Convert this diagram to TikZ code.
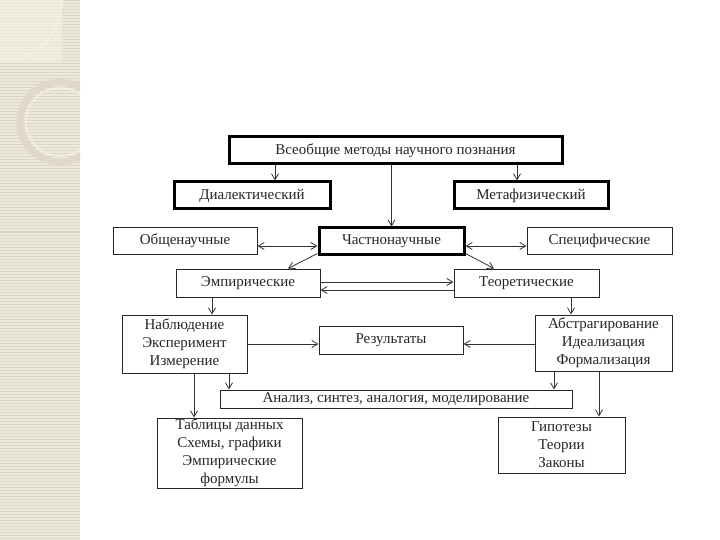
\documentclass[tikz,border=0pt]{standalone}
\usepackage{fontspec}
\setmainfont{Liberation Serif}
\usetikzlibrary{arrows.meta}
\definecolor{stripc}{HTML}{ECE9DA}
\definecolor{stripl}{HTML}{DCD7C2}
\definecolor{ringc}{HTML}{E0D8CB}
\definecolor{ringl}{HTML}{F3F0E6}
\begin{document}
\begin{tikzpicture}[x=1pt,y=-1pt,
  box/.style={draw=black!85, line width=1pt, inner sep=0pt, align=center,
    font=\fontsize{15}{18}\selectfont, text=black!85},
  thickbox/.style={box, line width=3pt, draw=black},
  arr/.style={draw=black!80, line width=0.8pt, -{Straight Barb[length=6pt,width=7pt]}},
  darr/.style={arr, {Straight Barb[length=6pt,width=7pt]}-{Straight Barb[length=6pt,width=7pt]}}]
\useasboundingbox (0,0) rectangle (720,540);
\fill[white] (0,0) rectangle (720,540);
% decorative strip
\fill[stripc] (0,0) rectangle (80,540);
\foreach \yy in {1,4,...,540} \draw[stripl, line width=1pt] (0,\yy) -- (80,\yy);
\begin{scope}
\clip (0,0) rectangle (80,540);
\fill[ringl, opacity=0.6] (0,0) rectangle (62,62);
\draw[ringl, line width=1.5pt] (63,0) .. controls (58,35) and (40,55) .. (14,61);
\draw[ringc, line width=7pt] (60,122) circle[radius=40];
\draw[ringl, line width=1.2pt] (60,122) circle[radius=34];
\end{scope}
% nodes
\node[thickbox, minimum width=333, minimum height=27] (top) at (395.5,150.5) {Всеобщие методы научного познания};
\node[thickbox, minimum width=156, minimum height=27] (dial) at (252,195.5) {Диалектический};
\node[thickbox, minimum width=154, minimum height=27] (meta) at (531,195.5) {Метафизический};
\node[box, minimum width=144, minimum height=26] (obsh) at (185,241) {Общенаучные};
\node[thickbox, minimum width=145, minimum height=26] (chast) at (391.5,241) {Частнонаучные};
\node[box, minimum width=145, minimum height=26] (spec) at (599.5,241) {Специфические};
\node[box, minimum width=144, minimum height=28] (emp) at (248,283) {Эмпирические};
\node[box, minimum width=145, minimum height=28] (teor) at (526.5,283) {Теоретические};
\node[box, minimum width=125, minimum height=58] (nabl) at (184.5,344) {Наблюдение\\Эксперимент\\Измерение};
\node[box, minimum width=144, minimum height=28] (res) at (391,340) {Результаты};
\node[box, minimum width=137, minimum height=56] (abstr) at (603.5,343) {Абстрагирование\\Идеализация\\Формализация};
\node[box, minimum width=352, minimum height=18] (anal) at (396,399) {Анализ, синтез, аналогия, моделирование};
\node[box, minimum width=145, minimum height=70] (tabl) at (229.5,453) {Таблицы данных\\Схемы, графики\\Эмпирические\\формулы};
\node[box, minimum width=127, minimum height=56] (gip) at (561.5,445) {Гипотезы\\Теории\\Законы};
% helper coordinates
\coordinate (c275) at (275,0);
\coordinate (c517) at (517,0);
\coordinate (c288) at (288,0);
\coordinate (c494) at (494,0);
\coordinate (c212) at (212,0);
\coordinate (c571) at (571,0);
\coordinate (c194) at (194,0);
\coordinate (c229) at (229,0);
\coordinate (c554) at (554,0);
\coordinate (c599) at (599,0);
\coordinate (c246) at (0,246);
\coordinate (c282) at (0,282);
\coordinate (c290) at (0,290);
\coordinate (c344) at (0,344);
% connectors
\draw[arr] (top.south -| c275) -- (dial.north -| c275);
\draw[arr] (top.south -| chast.north) -- (chast.north);
\draw[arr] (top.south -| c517) -- (meta.north -| c517);
\draw[darr] (obsh.east |- c246) -- (chast.west |- c246);
\draw[darr] (chast.east |- c246) -- (spec.west |- c246);
\draw[arr] ([yshift=2pt]chast.south west) -- (emp.north -| c288);
\draw[arr] ([yshift=2pt]chast.south east) -- (teor.north -| c494);
\draw[arr] (emp.east |- c282) -- (teor.west |- c282);
\draw[arr] (teor.west |- c290) -- (emp.east |- c290);
\draw[arr] (emp.south -| c212) -- (nabl.north -| c212);
\draw[arr] (teor.south -| c571) -- (abstr.north -| c571);
\draw[arr] (nabl.east |- c344) -- (res.west |- c344);
\draw[arr] (abstr.west |- c344) -- (res.east |- c344);
\draw[arr] (nabl.south -| c194) -- (tabl.north -| c194);
\draw[arr] (nabl.south -| c229) -- (anal.north -| c229);
\draw[arr] (abstr.south -| c554) -- (anal.north -| c554);
\draw[arr] (abstr.south -| c599) -- (gip.north -| c599);
\end{tikzpicture}
\end{document}
